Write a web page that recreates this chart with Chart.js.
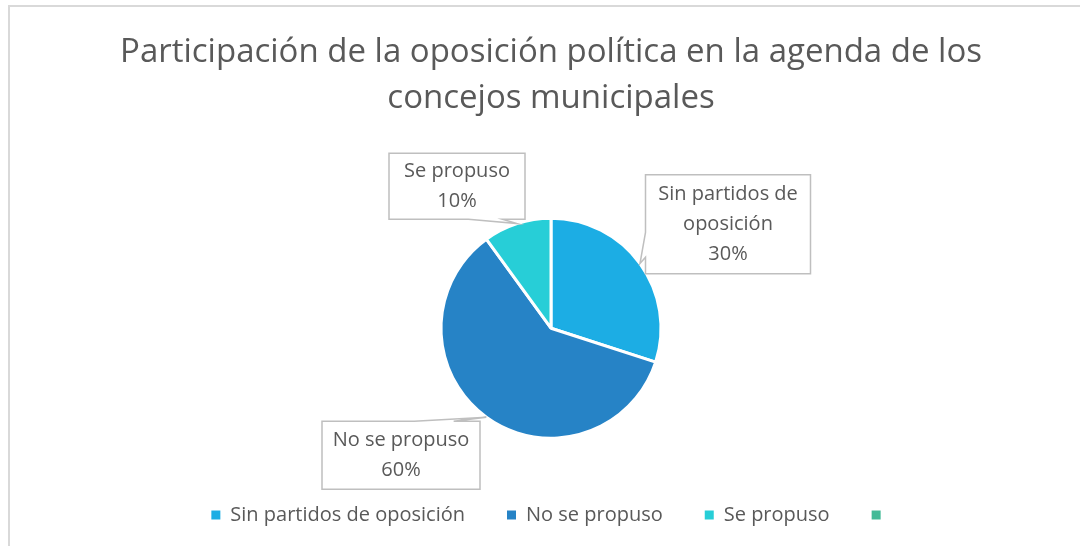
<!DOCTYPE html>
<html>
<head>
<meta charset="utf-8">
<script src="https://cdn.jsdelivr.net/npm/chart.js@4"></script>
<style>
    html, body { margin: 0; padding: 0; background: #fff; overflow: hidden; }
    #wrap { position: relative; width: 1080px; height: 546px; overflow: hidden; }
    #frame { position: absolute; left: 8px; top: 5px; width: 1200px; height: 700px; border: 2px solid #D9D9D9; box-sizing: border-box; }
    #chart { position: absolute; left: 0; top: 0; }
</style>
</head>
<body>
<div id="wrap">
    <div id="frame"></div>
    <canvas id="chart" width="1080" height="546"></canvas>
</div>
<script>
// データ
const categories = ['Sin partidos de oposición', 'No se propuso', 'Se propuso', ''];
const values = [30, 60, 10, 0];
const colors = ['#1CADE4', '#2683C6', '#27CED7', '#42BA97'];
const titleLines = ['Participación de la oposición política en la agenda de los', 'concejos municipales'];

const textColor = '#595959';
const fontFamily = '"Open Sans", "Liberation Sans", sans-serif';

// 吹き出しの配置（円の中心からの相対位置）
const calloutLayout = [
    { dx: 177, dy: -104, w: 165, h: 99, side: 'left' },
    { dx: -150, dy: 127, w: 158, h: 68, side: 'top' },
    { dx: -94, dy: -142, w: 136, h: 66, side: 'bottom' }
];

function wrapText(ctx, text, maxWidth) {
    const words = text.split(' ');
    const lines = [];
    let line = '';
    words.forEach(w => {
        const test = line ? line + ' ' + w : w;
        if (ctx.measureText(test).width > maxWidth && line) {
            lines.push(line);
            line = w;
        } else {
            line = test;
        }
    });
    if (line) lines.push(line);
    return lines;
}

// 吹き出しラベル
const calloutPlugin = {
    id: 'callouts',
    afterDatasetsDraw(chart) {
        const ctx = chart.ctx;
        const meta = chart.getDatasetMeta(0);
        const data = chart.data.datasets[0].data;
        const total = data.reduce((a, b) => a + b, 0);
        meta.data.forEach((arc, i) => {
            const cfg = calloutLayout[i];
            if (!cfg || !data[i]) return;
            const p = arc.getProps(['x', 'y', 'startAngle', 'endAngle', 'outerRadius'], true);
            const mid = (p.startAngle + p.endAngle) / 2;
            const tx = p.x + Math.cos(mid) * p.outerRadius;
            const ty = p.y + Math.sin(mid) * p.outerRadius;
            const cx = p.x + cfg.dx, cy = p.y + cfg.dy;
            const l = cx - cfg.w / 2, r = cx + cfg.w / 2, t = cy - cfg.h / 2, b = cy + cfg.h / 2;

            ctx.save();
            ctx.beginPath();
            ctx.moveTo(l, t);
            if (cfg.side === 'top') {
                const x1 = l + cfg.w * (tx > cx ? 7 : 2) / 12;
                const x2 = l + cfg.w * (tx > cx ? 10 : 5) / 12;
                ctx.lineTo(x1, t); ctx.lineTo(tx, ty); ctx.lineTo(x2, t);
            }
            ctx.lineTo(r, t);
            if (cfg.side === 'right') {
                const y1 = t + cfg.h * (ty > cy ? 7 : 2) / 12;
                const y2 = t + cfg.h * (ty > cy ? 10 : 5) / 12;
                ctx.lineTo(r, y1); ctx.lineTo(tx, ty); ctx.lineTo(r, y2);
            }
            ctx.lineTo(r, b);
            if (cfg.side === 'bottom') {
                const x1 = l + cfg.w * (tx > cx ? 10 : 5) / 12;
                const x2 = l + cfg.w * (tx > cx ? 7 : 2) / 12;
                ctx.lineTo(x1, b); ctx.lineTo(tx, ty); ctx.lineTo(x2, b);
            }
            ctx.lineTo(l, b);
            if (cfg.side === 'left') {
                const y1 = t + cfg.h * (ty > cy ? 10 : 5) / 12;
                const y2 = t + cfg.h * (ty > cy ? 7 : 2) / 12;
                ctx.lineTo(l, y1); ctx.lineTo(tx, ty); ctx.lineTo(l, y2);
            }
            ctx.closePath();
            ctx.fillStyle = '#fff';
            ctx.fill();
            ctx.lineWidth = 1.5;
            ctx.strokeStyle = '#BFBFBF';
            ctx.stroke();

            ctx.font = '20px ' + fontFamily;
            ctx.fillStyle = textColor;
            ctx.textAlign = 'center';
            ctx.textBaseline = 'middle';
            const lines = wrapText(ctx, categories[i], cfg.w - 10);
            lines.push(Math.round(data[i] / total * 100) + '%');
            const lh = 30;
            const y0 = cy - (lines.length - 1) * lh / 2;
            lines.forEach((s, k) => ctx.fillText(s, cx, y0 + k * lh));
            ctx.restore();
        });
    }
};

const chart = new Chart(document.getElementById('chart'), {
    type: 'pie',
    data: {
        labels: categories,
        datasets: [{
            data: values,
            backgroundColor: colors,
            borderColor: '#fff',
            borderWidth: 3,
            radius: 110
        }]
    },
    options: {
        responsive: false,
        animation: false,
        layout: {
            padding: { left: 22, right: 0, top: 0, bottom: 11 }
        },
        plugins: {
            title: {
                display: true,
                text: titleLines,
                color: textColor,
                font: { family: fontFamily, size: 33, weight: 'normal', lineHeight: 1.4 },
                padding: { top: 29, bottom: 72 }
            },
            legend: {
                position: 'bottom',
                labels: {
                    color: textColor,
                    font: { family: fontFamily, size: 20 },
                    boxWidth: 9,
                    boxHeight: 9,
                    padding: 42,
                    generateLabels(chart) {
                        const items = Chart.overrides.pie.plugins.legend.labels.generateLabels(chart);
                        return items.map(it => Object.assign(it, { lineWidth: 0, hidden: false }));
                    }
                }
            },
            tooltip: { enabled: false }
        }
    },
    plugins: [calloutPlugin]
});
</script>
</body>
</html>
